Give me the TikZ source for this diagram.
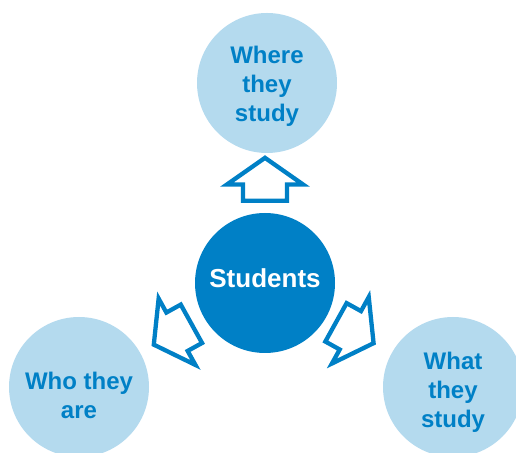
\documentclass[tikz,border=0pt]{standalone}
\usepackage{fontspec}
\setmainfont{Liberation Sans}
\usepackage{tikz}
\usetikzlibrary{shapes,calc}
\definecolor{midblue}{RGB}{0,128,198}
\definecolor{paleblue}{RGB}{180,218,238}

\begin{document}
\begin{tikzpicture}[x=1pt,y=1pt]
    \tikzstyle{hub} = [circle, fill=midblue, minimum size=140pt, inner sep=0pt, text=white, font=\bfseries\fontsize{26}{31}\selectfont];
    \tikzstyle{topic} = [circle, fill=paleblue, minimum size=140pt, inner sep=0pt, text=midblue, align=center, font=\bfseries\fontsize{24}{29}\selectfont];
    \tikzstyle{pointer} = [draw=midblue, line width=4.3pt, fill=white, single arrow, minimum height=43pt, inner xsep=0pt, inner ysep=19.8pt, single arrow head extend=16pt, single arrow tip angle=110, anchor=tail];

    \useasboundingbox (0,0) rectangle (516,452);

    % Nodes
    \node [hub] (students) at (265,169) {};
    \node [text=white, font=\bfseries\fontsize{26}{31}\selectfont] (studentsLabel) at ($(students)+(0,5)$) {Students};
    \node [topic] (where) at (267,369) {};
    \node [topic] (who) at (79,65) {};
    \node [topic] (what) at (453,65) {};
    \node [align=center, text=midblue, font=\bfseries\fontsize{24}{29}\selectfont] (whereLabel) at ($(where)+(0,-3)$) {Where\\they\\study};
    \node [align=center, text=midblue, font=\bfseries\fontsize{24}{29}\selectfont] (whoLabel) at ($(who)+(0,-8)$) {Who they\\are};
    \node [align=center, text=midblue, font=\bfseries\fontsize{24}{29}\selectfont] (whatLabel) at ($(what)+(0,-5)$) {What\\they\\study};

    % Arrows
    \node [pointer, rotate=90] (toWhere) at ($(students)+(90:80pt)$) {};
    \node [pointer, rotate=209] (toWho) at ($(students)+(209:82pt)$) {};
    \node [pointer, rotate=-29] (toWhat) at ($(students)+(-29:79pt)$) {};
\end{tikzpicture}
\end{document}
